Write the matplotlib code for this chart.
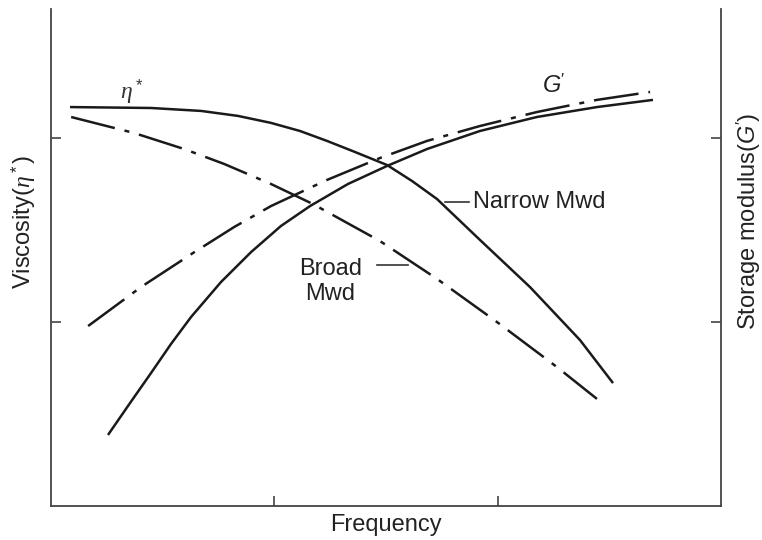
import matplotlib
matplotlib.use("Agg")
import matplotlib.pyplot as plt

plt.rcParams['font.family'] = ['Liberation Sans', 'DejaVu Sans']
plt.rcParams['mathtext.fontset'] = 'custom'
plt.rcParams['mathtext.rm'] = 'Liberation Sans'
plt.rcParams['mathtext.it'] = 'Liberation Serif:italic'
plt.rcParams['mathtext.sf'] = 'Liberation Sans:italic'

# viscosity, narrow Mwd (solid)
eta_narrow_x = [0.085, 0.448, 0.672, 0.837, 0.985, 1.115, 1.236, 1.361, 1.505, 1.617, 1.729, 1.921, 2.145, 2.369, 2.517]
eta_narrow_y = [2.168, 2.163, 2.147, 2.120, 2.082, 2.038, 1.984, 1.924, 1.853, 1.766, 1.668, 1.446, 1.190, 0.902, 0.668]

# viscosity, broad Mwd (dash-dot)
eta_broad_x = [0.090, 0.372, 0.596, 0.775, 0.985, 1.173, 1.473, 1.729, 1.997, 2.266, 2.445]
eta_broad_y = [2.114, 2.027, 1.940, 1.859, 1.750, 1.641, 1.440, 1.234, 1.000, 0.755, 0.582]

# storage modulus, broad Mwd (dash-dot)
g_broad_x = [0.166, 0.403, 0.636, 0.820, 0.985, 1.236, 1.473, 1.684, 1.921, 2.176, 2.445, 2.683]
g_broad_y = [0.978, 1.190, 1.375, 1.516, 1.630, 1.772, 1.891, 1.984, 2.065, 2.141, 2.207, 2.250]

# storage modulus, narrow Mwd (solid)
g_narrow_x = [0.255, 0.354, 0.448, 0.537, 0.627, 0.761, 0.896, 1.030, 1.160, 1.330, 1.505, 1.684, 1.921, 2.176, 2.445, 2.696]
g_narrow_y = [0.386, 0.560, 0.723, 0.880, 1.027, 1.217, 1.380, 1.522, 1.630, 1.750, 1.848, 1.940, 2.038, 2.114, 2.168, 2.207]

fig = plt.figure(figsize=(7.62, 5.40), dpi=100)
ax = fig.add_axes([0.067, 0.063, 0.879, 0.92])

lw = 1.8
dashdot = (0, (18, 4, 2, 4))
col = '#1a1a1a'
ax.plot(eta_narrow_x, eta_narrow_y, color=col, lw=lw, solid_capstyle='butt')
ax.plot(eta_broad_x, eta_broad_y, color=col, lw=lw, linestyle=dashdot, dash_capstyle='butt')
ax.plot(g_broad_x, g_broad_y, color=col, lw=lw, linestyle=dashdot, dash_capstyle='butt')
ax.plot(g_narrow_x, g_narrow_y, color=col, lw=lw, solid_capstyle='butt')

ax.set_xlim(0, 3)
ax.set_ylim(0, 2.70)
ax.set_xticks([1, 2])
ax.set_yticks([1, 2])
ax.set_xticklabels([])
ax.set_yticklabels([])
ax.tick_params(direction='in', length=7, width=1.2, color='#444444',
               left=True, right=True, bottom=True, top=False)
ax.spines['top'].set_visible(False)
for s in ['left', 'right', 'bottom']:
    ax.spines[s].set_color('#444444')
    ax.spines[s].set_linewidth(1.3)

# curve labels
ax.text(0.36, 2.25, r'$\eta^*$', fontsize=17, ha='center', va='center', color='#333333')
ax.text(2.25, 2.28, r'$\mathsf{G}^\prime$', fontsize=17, ha='center', va='center', color='#222222')

# leaders and group labels
ax.plot([1.765, 1.87], [1.65, 1.65], color='#333333', lw=1.2)
ax.text(1.89, 1.65, 'Narrow Mwd', fontsize=17, ha='left', va='center', color='#222222')
ax.plot([1.46, 1.60], [1.31, 1.31], color='#333333', lw=1.2)
ax.text(1.25, 1.22, 'Broad\nMwd', fontsize=17, ha='center', va='center',
        linespacing=1.15, color='#222222')

fig.text(0.507, 0.028, 'Frequency', fontsize=17, ha='center', va='center', color='#222222')
fig.text(0.031, 0.589, r'Viscosity($\eta^*$)', fontsize=17, rotation=90,
         ha='center', va='center', color='#222222')
fig.text(0.983, 0.59, r'Storage modulus($\mathsf{G}^\prime$)', fontsize=17, rotation=90,
         ha='center', va='center', color='#222222')

fig.savefig('out.png', dpi=100)
